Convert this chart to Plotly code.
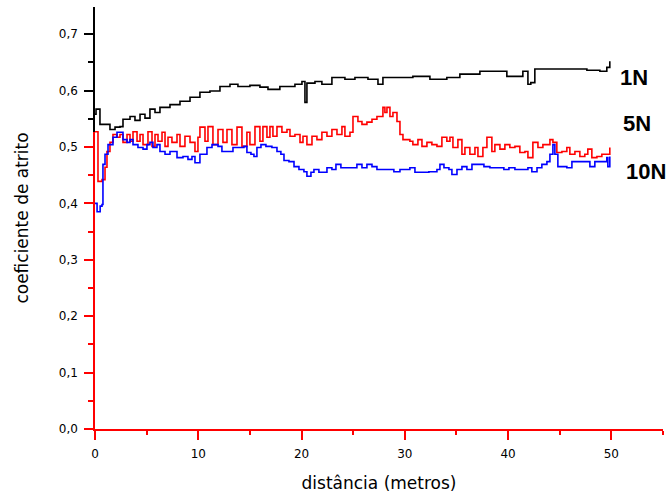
import plotly.graph_objects as go

# ---- data ----
x_1n = [0, 0.1, 0.48, 1.45, 1.94, 2.42, 2.71, 3.39, 3.87, 4.36,
        4.84, 5.32, 5.81, 6.29, 7.26, 8.23, 9.2, 10.16, 11.13, 12.1,
        13.07, 13.84, 15.0, 15.97, 16.75, 17.9, 19.36, 20.04, 20.33, 20.52,
        21.3, 21.97, 22.94, 24.2, 25.17, 26.43, 27.4, 27.88, 28.56, 30.78,
        32.43, 34.07, 35.33, 37.27, 38.53, 39.88, 41.43, 41.92, 42.2, 42.59,
        44.34, 45.98, 47.63, 48.89, 49.56, 49.85]
y_1n = [0.558, 0.567, 0.540, 0.531, 0.535, 0.536, 0.549, 0.554, 0.547, 0.558,
        0.551, 0.567, 0.561, 0.570, 0.575, 0.581, 0.588, 0.597, 0.599, 0.607,
        0.611, 0.607, 0.609, 0.606, 0.602, 0.607, 0.611, 0.616, 0.579, 0.613,
        0.616, 0.611, 0.623, 0.620, 0.623, 0.620, 0.611, 0.623, 0.623, 0.625,
        0.620, 0.623, 0.629, 0.634, 0.634, 0.625, 0.634, 0.611, 0.614, 0.638,
        0.638, 0.638, 0.636, 0.634, 0.641, 0.652]

x_5n = [0, 0.29, 0.68, 0.97, 1.16, 1.45, 1.74, 2.13, 2.42, 2.71,
        3.10, 3.39, 3.68, 4.07, 4.36, 4.65, 5.13, 5.52, 5.81, 6.10,
        6.49, 6.78, 7.07, 7.45, 7.94, 8.23, 8.71, 9.20, 9.68, 9.97,
        10.16, 10.65, 10.94, 11.42, 11.91, 12.39, 12.78, 13.26, 13.75, 14.23,
        14.71, 15.0, 15.49, 15.97, 16.26, 16.65, 16.94, 17.23, 17.62, 18.10,
        18.59, 18.88, 19.36, 19.85, 20.14, 20.52, 21.01, 21.49, 21.97, 22.46,
        22.94, 23.43, 23.91, 24.20, 24.69, 24.98, 25.46, 25.85, 26.33, 26.82,
        27.30, 27.88, 28.07, 28.27, 28.56, 28.85, 29.24, 29.53, 29.82, 30.49,
        30.78, 31.27, 31.66, 32.14, 32.62, 33.11, 33.59, 34.07, 34.37, 34.66,
        35.14, 35.53, 35.82, 36.30, 36.79, 37.08, 37.56, 37.95, 38.43, 38.72,
        39.21, 39.69, 40.17, 40.66, 41.14, 41.63, 41.92, 42.40, 42.89, 43.37,
        44.05, 44.34, 44.72, 45.21, 45.69, 45.98, 46.47, 46.95, 47.43, 47.72,
        48.11, 48.60, 49.08, 49.37, 49.85]
y_5n = [0.527, 0.439, 0.442, 0.464, 0.492, 0.508, 0.522, 0.517, 0.522, 0.508,
        0.522, 0.510, 0.527, 0.510, 0.522, 0.504, 0.527, 0.501, 0.522, 0.510,
        0.526, 0.501, 0.517, 0.508, 0.522, 0.501, 0.519, 0.508, 0.492, 0.517,
        0.535, 0.510, 0.536, 0.504, 0.531, 0.508, 0.531, 0.504, 0.535, 0.501,
        0.526, 0.504, 0.536, 0.510, 0.536, 0.517, 0.536, 0.519, 0.536, 0.526,
        0.531, 0.519, 0.522, 0.508, 0.519, 0.504, 0.519, 0.513, 0.526, 0.519,
        0.531, 0.522, 0.536, 0.519, 0.526, 0.554, 0.545, 0.540, 0.544, 0.549,
        0.554, 0.570, 0.561, 0.570, 0.554, 0.561, 0.545, 0.522, 0.513, 0.510,
        0.504, 0.513, 0.501, 0.508, 0.504, 0.501, 0.517, 0.510, 0.517, 0.499,
        0.513, 0.487, 0.499, 0.487, 0.499, 0.483, 0.499, 0.517, 0.492, 0.504,
        0.496, 0.504, 0.499, 0.501, 0.490, 0.492, 0.481, 0.508, 0.499, 0.504,
        0.513, 0.508, 0.490, 0.492, 0.499, 0.487, 0.492, 0.483, 0.487, 0.496,
        0.481, 0.483, 0.487, 0.487, 0.499]

x_10n = [0, 0.2, 0.5, 0.68, 0.77, 0.97, 1.26, 1.74, 2.13, 2.42,
         2.71, 3.10, 3.39, 3.68, 4.16, 4.65, 5.03, 5.32, 5.61, 6.00,
         6.29, 6.78, 7.26, 7.94, 8.52, 9.00, 9.39, 9.68, 10.16, 10.84,
         11.33, 11.91, 12.29, 12.78, 13.36, 13.94, 14.42, 14.71, 15.1, 15.39,
         15.68, 16.07, 16.55, 17.13, 17.62, 18.0, 18.3, 18.78, 19.27, 19.75,
         20.23, 20.52, 20.91, 21.2, 21.68, 22.17, 22.46, 22.94, 23.33, 23.81,
         24.3, 24.88, 25.36, 25.85, 26.33, 26.82, 27.3, 27.78, 28.27, 28.94,
         29.53, 30.20, 30.49, 30.98, 31.85, 32.33, 33.11, 33.40, 33.79, 34.27,
         34.56, 35.05, 35.53, 36.01, 36.50, 37.17, 37.66, 38.24, 38.92, 39.59,
         40.08, 40.66, 41.14, 41.92, 42.3, 42.8, 43.27, 43.76, 44.05, 44.34,
         44.53, 44.82, 45.3, 45.69, 46.18, 46.76, 47.43, 47.92, 48.4, 49.08,
         49.56, 49.66, 49.85]
y_10n = [0.400, 0.385, 0.395, 0.398, 0.469, 0.487, 0.504, 0.517, 0.526, 0.526,
         0.513, 0.508, 0.513, 0.504, 0.499, 0.496, 0.504, 0.508, 0.499, 0.504,
         0.492, 0.487, 0.492, 0.481, 0.483, 0.478, 0.483, 0.472, 0.487, 0.499,
         0.504, 0.501, 0.492, 0.492, 0.499, 0.499, 0.501, 0.490, 0.487, 0.483,
         0.499, 0.504, 0.501, 0.499, 0.492, 0.487, 0.476, 0.474, 0.465, 0.460,
         0.456, 0.448, 0.455, 0.460, 0.455, 0.455, 0.463, 0.460, 0.469, 0.463,
         0.463, 0.463, 0.469, 0.463, 0.469, 0.465, 0.460, 0.460, 0.460, 0.456,
         0.460, 0.460, 0.463, 0.455, 0.455, 0.456, 0.460, 0.469, 0.463, 0.460,
         0.451, 0.460, 0.465, 0.460, 0.469, 0.469, 0.465, 0.463, 0.463, 0.460,
         0.463, 0.460, 0.460, 0.463, 0.456, 0.463, 0.469, 0.474, 0.487, 0.504,
         0.487, 0.465, 0.465, 0.463, 0.474, 0.474, 0.474, 0.465, 0.474, 0.474,
         0.481, 0.465, 0.483]

series_names = ["1N", "5N", "10N"]
x_ticks = [0, 10, 20, 30, 40, 50]

# ---- figure ----
FONT = "DejaVu Sans"
fig = go.Figure()
fig.add_trace(go.Scatter(x=x_1n, y=y_1n, mode="lines", line_shape="hv",
                         line=dict(color="#000000", width=1.6), name=series_names[0]))
fig.add_trace(go.Scatter(x=x_5n, y=y_5n, mode="lines", line_shape="hv",
                         line=dict(color="#ff0000", width=1.6), name=series_names[1]))
fig.add_trace(go.Scatter(x=x_10n, y=y_10n, mode="lines", line_shape="hv",
                         line=dict(color="#0000ff", width=1.6), name=series_names[2]))
# empty trace so the red lower y-axis layer exists
fig.add_trace(go.Scatter(x=[None], y=[None], xaxis="x", yaxis="y2",
                         mode="lines", showlegend=False, hoverinfo="skip"))

YTOP = 0.748
RED_TOP = 0.527

fig.update_layout(
    width=670, height=493,
    margin=dict(l=95, r=7, t=7, b=64),
    plot_bgcolor="rgba(0,0,0,0)", paper_bgcolor="white",
    showlegend=False,
    separators=",.",
    font=dict(family=FONT, color="black"),
    xaxis=dict(
        range=[0, 55], showline=True, linecolor="#ff0000", linewidth=1.5,
        ticks="outside", ticklen=9, tickwidth=1.5, tickcolor="#ff0000",
        tickvals=x_ticks, ticklabelstandoff=4,
        minor=dict(ticks="outside", ticklen=4, dtick=5, tick0=0,
                   tickcolor="#ff0000", tickwidth=1.5),
        showgrid=False, zeroline=False,
        tickfont=dict(family=FONT, size=12, color="black"),
        title=dict(text="distância (metros)", font=dict(family=FONT, size=17, color="black"),
                   standoff=19),
        automargin=False,
    ),
    yaxis=dict(
        range=[0, YTOP], domain=[0, 1], showline=True, linecolor="#000000", linewidth=1.5,
        ticks="outside", ticklen=9, tickwidth=1.5, tickcolor="#000000",
        dtick=0.1, tick0=0, tickformat=".1f", ticklabelstandoff=4,
        minor=dict(ticks="outside", ticklen=5, dtick=0.05, tick0=0,
                   tickcolor="#000000", tickwidth=1.5),
        showgrid=False, zeroline=False,
        tickfont=dict(family=FONT, size=12, color="black"),
        title=dict(text="coeficiente de atrito", font=dict(family=FONT, size=17, color="black"),
                   standoff=26),
        automargin=False,
    ),
    yaxis2=dict(
        range=[0, RED_TOP], domain=[0, RED_TOP / YTOP], anchor="x",
        showline=True, linecolor="#ff0000", linewidth=1.5,
        ticks="outside", ticklen=9, tickwidth=1.5, tickcolor="#ff0000",
        dtick=0.1, tick0=0, showticklabels=False,
        minor=dict(ticks="outside", ticklen=5, dtick=0.05, tick0=0,
                   tickcolor="#ff0000", tickwidth=1.5),
        showgrid=False, zeroline=False,
    ),
)

label_pos = [(52.2, 0.623), (52.5, 0.542), (53.4, 0.457)]
for name, (lx, ly) in zip(series_names, label_pos):
    fig.add_annotation(x=lx, y=ly, xref="x", yref="y", text="<b>%s</b>" % name,
                       showarrow=False, xanchor="center", yanchor="middle",
                       font=dict(family="Liberation Sans", size=22, color="black"))

fig.write_html("out.html",
               config={"displayModeBar": False},
               post_script="document.documentElement.style.margin='0';"
                           "document.body.style.margin='0';"
                           "document.body.style.overflow='hidden';")
